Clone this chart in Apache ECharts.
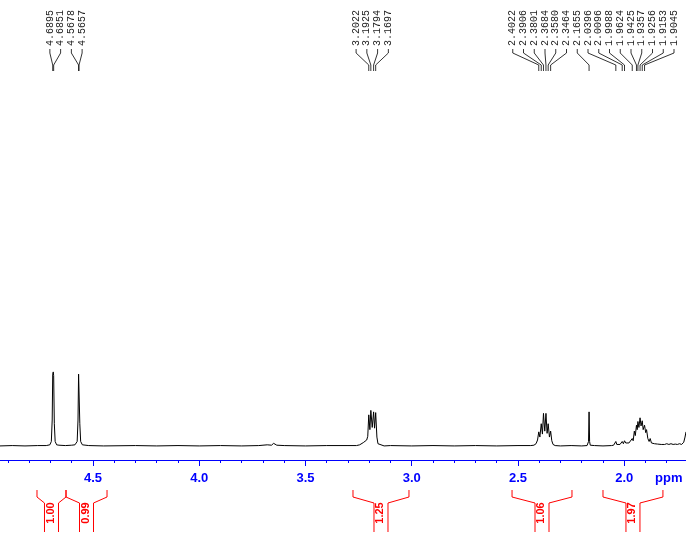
<!DOCTYPE html>
<html>
<head>
<meta charset="utf-8">
<title>1H NMR</title>
<script src="https://cdn.jsdelivr.net/npm/echarts@6.0.0/dist/echarts.min.js"></script>
<style>
  html, body { margin: 0; padding: 0; background: #fff; }
  #chart { width: 686px; height: 544px; }
</style>
</head>
<body>
<div id="chart"></div>
<script>
// visible window in ppm (axis drawn high -> low, left -> right)
const ppmMin = 1.7094;
const ppmMax = 4.9376;

const majorTicks = [2.0, 2.5, 3.0, 3.5, 4.0, 4.5];
const minorTicks = [1.8, 1.9, 2.1, 2.2, 2.3, 2.4, 2.6, 2.7, 2.8, 2.9, 3.1, 3.2,
  3.3, 3.4, 3.6, 3.7, 3.8, 3.9, 4.1, 4.2, 4.3, 4.4, 4.6, 4.7, 4.8, 4.9];

// picked peaks, one list per label fan
const peaksA = [4.6895, 4.6851, 4.5678, 4.5657];
const peaksB = [3.2022, 3.1925, 3.1794, 3.1697];
const peaksC = [2.4022, 2.3906, 2.3801, 2.3684, 2.3580, 2.3464, 2.1655, 2.0396,
  2.0096, 1.9988, 1.9624, 1.9425, 1.9357, 1.9256, 1.9153, 1.9045];

// integral regions
const integralFrom = [4.7635, 4.627, 3.2765, 2.528, 2.100];
const integralTo = [4.627, 4.434, 3.013, 2.246, 1.818];
const integralValue = [1.00, 0.99, 1.25, 1.06, 1.97];

// spectrum trace [ppm, intensity]
const traceLow = [
  [4.9376, 0.0], [4.88, 0.005], [4.82, 0.0], [4.76, 0.005], [4.72, 0.005],
  [4.703, 0.015], [4.696, 0.06], [4.692, 0.35], [4.6895, 0.97], [4.687, 1.0],
  [4.6851, 0.95], [4.682, 0.3], [4.678, 0.06], [4.671, 0.015],
  [4.66, 0.01], [4.63, 0.005], [4.60, 0.01],
  [4.585, 0.015], [4.5745, 0.06], [4.5705, 0.35], [4.5678, 0.97], [4.5665, 0.99],
  [4.5657, 0.95], [4.562, 0.3], [4.558, 0.06], [4.55, 0.015],
  [4.52, 0.005], [4.45, 0.0], [4.3, 0.005], [4.2, 0.0], [4.1, 0.005], [4.0, 0.0],
  [3.9, 0.005], [3.8, 0.0], [3.72, 0.005], [3.70, 0.01], [3.68, 0.015], [3.66, 0.01],
  [3.65, 0.035], [3.645, 0.03], [3.635, 0.01], [3.6, 0.005], [3.5, 0.0],
  [3.4, 0.005], [3.3, 0.005]
];
const traceMid = [
  [3.26, 0.005], [3.245, 0.015], [3.236, 0.04], [3.228, 0.045], [3.22, 0.06],
  [3.212, 0.08], [3.207, 0.13], [3.2022, 0.42], [3.197, 0.22], [3.1925, 0.48],
  [3.186, 0.25], [3.1794, 0.46], [3.175, 0.24], [3.1697, 0.45], [3.164, 0.12],
  [3.159, 0.03], [3.152, 0.01], [3.13, 0.0], [3.1, 0.005], [3.0, 0.0],
  [2.9, 0.005], [2.8, 0.0], [2.7, 0.005], [2.6, 0.0], [2.5, 0.005], [2.44, 0.005]
];
const traceHigh = [
  [2.425, 0.01], [2.415, 0.03], [2.408, 0.08], [2.4022, 0.19], [2.397, 0.12],
  [2.3906, 0.30], [2.385, 0.16], [2.3801, 0.44], [2.374, 0.2], [2.3684, 0.44],
  [2.363, 0.17], [2.358, 0.30], [2.352, 0.12], [2.3464, 0.2], [2.341, 0.07],
  [2.335, 0.02], [2.325, 0.005], [2.3, 0.0], [2.25, 0.005], [2.2, 0.0],
  [2.175, 0.005], [2.171, 0.01], [2.168, 0.06], [2.1655, 0.46], [2.163, 0.06],
  [2.160, 0.01], [2.14, 0.005], [2.1, 0.0], [2.06, 0.005], [2.05, 0.01],
  [2.045, 0.03], [2.0396, 0.06], [2.035, 0.02], [2.028, 0.03], [2.02, 0.02],
  [2.0096, 0.06], [2.004, 0.03], [1.9988, 0.07], [1.993, 0.04], [1.985, 0.05],
  [1.978, 0.04], [1.970, 0.06], [1.9624, 0.10], [1.958, 0.07], [1.9525, 0.2],
  [1.948, 0.14], [1.9425, 0.28], [1.939, 0.22], [1.9357, 0.33], [1.931, 0.25],
  [1.9256, 0.38], [1.921, 0.27], [1.9153, 0.34], [1.911, 0.22], [1.9045, 0.28],
  [1.899, 0.18], [1.895, 0.22], [1.889, 0.1], [1.883, 0.06], [1.878, 0.1],
  [1.872, 0.04], [1.865, 0.05], [1.858, 0.03], [1.85, 0.05], [1.843, 0.025],
  [1.835, 0.04], [1.826, 0.02], [1.818, 0.035], [1.81, 0.02], [1.80, 0.03],
  [1.79, 0.02], [1.78, 0.03], [1.77, 0.02], [1.76, 0.025], [1.75, 0.02],
  [1.74, 0.03], [1.73, 0.02], [1.72, 0.05], [1.714, 0.12], [1.7094, 0.19]
];

const blue = "#0000ff";
const red = "#ff0000";
const labelGap = 10.75;

const chart = echarts.init(document.getElementById("chart"));

// one data row per peak label: [ppm, group mean, slot offset, last slot]
let peakRows = [];
[peaksA, peaksB, peaksC].forEach(function (g) {
  let mean = g.reduce(function (a, b) { return a + b; }, 0) / g.length;
  let half = (g.length - 1) / 2;
  g.forEach(function (p, i) {
    peakRows.push([p, mean, i - half, half]);
  });
});

let integralRows = integralValue.map(function (v, i) {
  return [integralFrom[i], integralTo[i], v];
});

function renderPeakLabel(params, api) {
  let ppm = api.value(0);
  let px = api.coord([ppm, 0])[0];
  let cx = api.coord([api.value(1), 0])[0];
  let last = cx + api.value(3) * labelGap;
  let limit = api.getWidth() - 12;
  if (last > limit) cx -= last - limit;
  let lx = cx + api.value(2) * labelGap;
  return {
    type: "group",
    children: [
      {
        type: "text",
        x: lx,
        y: 46,
        rotation: Math.PI / 2,
        style: {
          text: ppm.toFixed(4),
          fill: "#222",
          font: "10px 'Liberation Mono', monospace",
          align: "left",
          verticalAlign: "middle",
        },
      },
      {
        type: "polyline",
        shape: { points: [[lx, 49], [lx, 53], [px, 65], [px, 71]] },
        style: { stroke: "#000", lineWidth: 0.8, fill: null },
      },
    ],
  };
}

function renderIntegral(params, api) {
  let xs = api.coord([api.value(0), 0])[0];
  let xe = api.coord([api.value(1), 0])[0];
  let mid = (xs + xe) / 2;
  let lineStyle = { stroke: red, lineWidth: 1, fill: null };
  return {
    type: "group",
    children: [
      {
        type: "polyline",
        shape: { points: [[xs, 490], [xs, 497], [mid - 7, 503], [mid - 7, 532]] },
        style: lineStyle,
      },
      {
        type: "polyline",
        shape: { points: [[xe, 490], [xe, 497], [mid + 7, 503], [mid + 7, 532]] },
        style: lineStyle,
      },
      {
        type: "text",
        x: mid - 1,
        y: 513,
        rotation: Math.PI / 2,
        style: {
          text: api.value(2).toFixed(2),
          fill: red,
          font: "bold 11px 'Liberation Sans', Arial, sans-serif",
          align: "center",
          verticalAlign: "middle",
        },
      },
    ],
  };
}

let option = {
  animation: false,
  backgroundColor: "#fff",
  grid: { left: 0, right: 0, top: 61, bottom: 84 },
  xAxis: [
    {
      type: "value",
      min: ppmMin,
      max: ppmMax,
      inverse: true,
      position: "bottom",
      splitLine: { show: false },
      axisLine: { show: true, onZero: false, lineStyle: { color: blue, width: 1 } },
      axisTick: {
        show: true,
        customValues: majorTicks,
        length: 6,
        lineStyle: { color: blue },
      },
      axisLabel: {
        customValues: majorTicks,
        formatter: function (v) { return v.toFixed(1); },
        color: blue,
        fontWeight: "bold",
        fontSize: 13,
        fontFamily: "'Liberation Sans', Arial, sans-serif",
        margin: 12,
      },
    },
    {
      type: "value",
      min: ppmMin,
      max: ppmMax,
      inverse: true,
      position: "bottom",
      splitLine: { show: false },
      axisLine: { show: false, onZero: false },
      axisTick: {
        show: true,
        customValues: minorTicks,
        length: 3,
        lineStyle: { color: blue },
      },
      axisLabel: { show: false },
    },
  ],
  yAxis: { type: "value", min: -0.19, max: 5.2, show: false },
  graphic: [
    {
      type: "text",
      left: 655,
      top: 472,
      style: {
        text: "ppm",
        fill: blue,
        font: "bold 13px 'Liberation Sans', Arial, sans-serif",
      },
    },
  ],
  series: [
    {
      name: "spectrum",
      type: "line",
      data: traceLow.concat(traceMid, traceHigh),
      showSymbol: false,
      symbol: "none",
      lineStyle: { color: "#000", width: 1 },
      silent: true,
    },
    {
      name: "peaks",
      type: "custom",
      renderItem: renderPeakLabel,
      data: peakRows,
      silent: true,
    },
    {
      name: "integrals",
      type: "custom",
      renderItem: renderIntegral,
      data: integralRows,
      silent: true,
    },
  ],
};

chart.setOption(option);
</script>
</body>
</html>
